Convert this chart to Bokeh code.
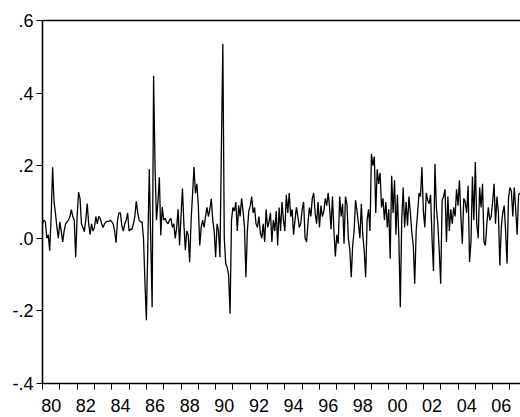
from bokeh.plotting import figure
from bokeh.models import FixedTicker, LinearAxis, Range1d, CustomJSTickFormatter
from bokeh.embed import file_html
from bokeh.resources import INLINE

start_year = 1980
# monthly series, 1980:01 onward
values = [
    0.04, 0.05, 0.045, 0.0, 0.01, -0.034, 0.06, 0.196, 0.10, 0.068, 0.03, 0.0,            # 1980
    0.045, 0.02, -0.01, 0.02, 0.04, 0.045, 0.05, 0.06, 0.079, 0.06, 0.05, -0.052,         # 1981
    0.06, 0.127, 0.11, 0.04, 0.03, 0.018, 0.05, 0.096, 0.04, 0.01, 0.04, 0.02,            # 1982
    0.03, 0.06, 0.04, 0.06, 0.055, 0.04, 0.03, 0.04, 0.045, 0.047, 0.046, 0.05,           # 1983
    0.045, 0.04, 0.02, -0.012, 0.05, 0.07, 0.07, 0.035, 0.02, 0.04, 0.05, 0.07,           # 1984
    0.02, 0.025, 0.025, 0.04, 0.06, 0.102, 0.07, 0.05, 0.045, 0.045, 0.0, -0.12,          # 1985
    -0.226, -0.02, 0.19, 0.0, -0.19, 0.448, 0.2, 0.05, 0.10, 0.168, 0.008, 0.086,         # 1986
    0.05, 0.055, 0.045, 0.04, 0.05, 0.055, 0.03, 0.04, 0.0, 0.03, 0.08, -0.02,            # 1987
    0.06, 0.137, 0.04, -0.033, 0.02, 0.01, -0.066, 0.05, 0.12, 0.196, 0.124, 0.15,        # 1988
    0.09, -0.02, 0.03, 0.05, 0.03, 0.06, 0.085, 0.06, 0.08, 0.109, 0.05, 0.02,            # 1989
    -0.052, 0.04, 0.02, -0.052, 0.25, 0.535, 0.0, -0.07, -0.08, -0.10, -0.208, 0.05,      # 1990
    0.085, 0.075, 0.1, 0.02, 0.09, 0.06, 0.11, 0.075, 0.03, -0.107, 0.02, 0.075,          # 1991
    0.09, 0.115, 0.07, 0.085, 0.04, 0.03, 0.06, 0.015, 0.0, 0.04, -0.01, 0.08,            # 1992
    0.03, 0.045, 0.07, -0.01, 0.05, 0.02, 0.075, -0.02, 0.085, 0.02, 0.1, 0.05,           # 1993
    0.02, 0.12, 0.07, 0.125, 0.06, 0.08, 0.01, 0.05, 0.085, 0.06, 0.03, 0.04,             # 1994
    0.08, 0.1, 0.0, -0.01, 0.04, 0.085, 0.06, 0.11, 0.125, 0.07, 0.04, 0.1,               # 1995
    0.03, 0.09, 0.06, 0.075, 0.11, 0.09, 0.125, 0.085, 0.025, 0.115, 0.02, -0.05,         # 1996
    0.01, -0.015, 0.115, 0.06, 0.095, -0.015, 0.115, 0.095, 0.0, -0.03, -0.107, -0.02,    # 1997
    0.02, 0.105, 0.075, 0.04, 0.0, 0.095, 0.01, -0.035, -0.107, 0.05, 0.08, 0.02,         # 1998
    0.233, 0.2, 0.225, 0.07, 0.19, 0.15, 0.18, 0.085, 0.11, 0.05, 0.1, 0.03,              # 1999
    0.08, -0.056, 0.172, 0.07, 0.16, 0.01, 0.12, 0.0, -0.19, 0.05, 0.14, 0.03,            # 2000
    0.1, 0.035, 0.115, 0.07, 0.015, -0.02, -0.125, 0.02, 0.07, 0.125, 0.115, 0.196,       # 2001
    0.075, 0.03, 0.125, 0.105, 0.095, 0.12, 0.0, -0.09, 0.205, 0.085, 0.04, -0.035,       # 2002
    -0.125, 0.105, 0.115, 0.135, -0.01, 0.115, 0.02, 0.08, 0.04, 0.085, 0.06, 0.135,      # 2003
    0.09, 0.16, 0.06, -0.015, 0.11, 0.1, 0.07, 0.145, -0.065, -0.01, 0.17, 0.05,          # 2004
    0.21, 0.04, 0.0, 0.14, 0.085, 0.15, -0.01, -0.02, 0.04, 0.085, 0.05, 0.06,            # 2005
    0.1, 0.15, 0.04, 0.115, 0.07, -0.075, 0.03, 0.07, 0.09, 0.02, -0.07, 0.11,            # 2006
    0.14, 0.13, 0.06, 0.14, 0.08, 0.01, 0.12, 0.125,                                      # 2007
]
dates = [start_year + i / 12 for i in range(len(values))]

year_ticks = list(range(1980, 2009))
label_years = list(range(1980, 2008, 2))
y_ticks = [-0.4, -0.2, 0.0, 0.2, 0.4, 0.6]

FONT = "Liberation Sans"
FSIZE = "18px"

p = figure(width=520, height=417,
           x_range=Range1d(1980, 2007.61), y_range=Range1d(-0.4, 0.6),
           output_backend="svg", toolbar_location=None,
           min_border_left=42, min_border_right=0, min_border_top=20, min_border_bottom=34,
           background_fill_color="white", border_fill_color="white")
p.outline_line_color = None
p.xgrid.visible = False
p.ygrid.visible = False

p.line(dates, values, line_color="black", line_width=1.3)

# bottom axis: year ticks, labels centred in every other year
xa = p.xaxis[0]
xa.ticker = FixedTicker(ticks=[y + 0.5 for y in label_years], minor_ticks=year_ticks)
xa.formatter = CustomJSTickFormatter(code="const y = Math.floor(tick); return String(y % 100).padStart(2, '0');")
xa.major_tick_out = 0
xa.major_tick_in = 0
xa.minor_tick_out = 6
xa.minor_tick_in = 0
xa.minor_tick_line_color = "black"
xa.minor_tick_line_width = 1
xa.axis_line_width = 1.6
xa.axis_line_color = "black"
xa.major_label_standoff = 9
xa.major_label_text_font = FONT
xa.major_label_text_font_size = FSIZE
xa.major_label_text_color = "black"

ya = p.yaxis[0]
ya.ticker = FixedTicker(ticks=y_ticks, minor_ticks=[])
ya.formatter = CustomJSTickFormatter(code="return tick.toFixed(1).replace(/^(-?)0\\./, '$1.');")
ya.major_tick_out = 6
ya.major_tick_in = 0
ya.major_tick_line_color = "black"
ya.major_tick_line_width = 1
ya.axis_line_width = 1.6
ya.axis_line_color = "black"
ya.major_label_standoff = 3
ya.major_label_text_font = FONT
ya.major_label_text_font_size = FSIZE
ya.major_label_text_color = "black"

top = LinearAxis(ticker=FixedTicker(ticks=[], minor_ticks=[]),
                 major_tick_out=0, major_tick_in=0, minor_tick_out=0, minor_tick_in=0,
                 major_label_standoff=0, major_label_text_font_size="0px",
                 axis_line_color="black", axis_line_width=1.6)
p.add_layout(top, "above")

open("out.html", "w").write(file_html(p, INLINE))
